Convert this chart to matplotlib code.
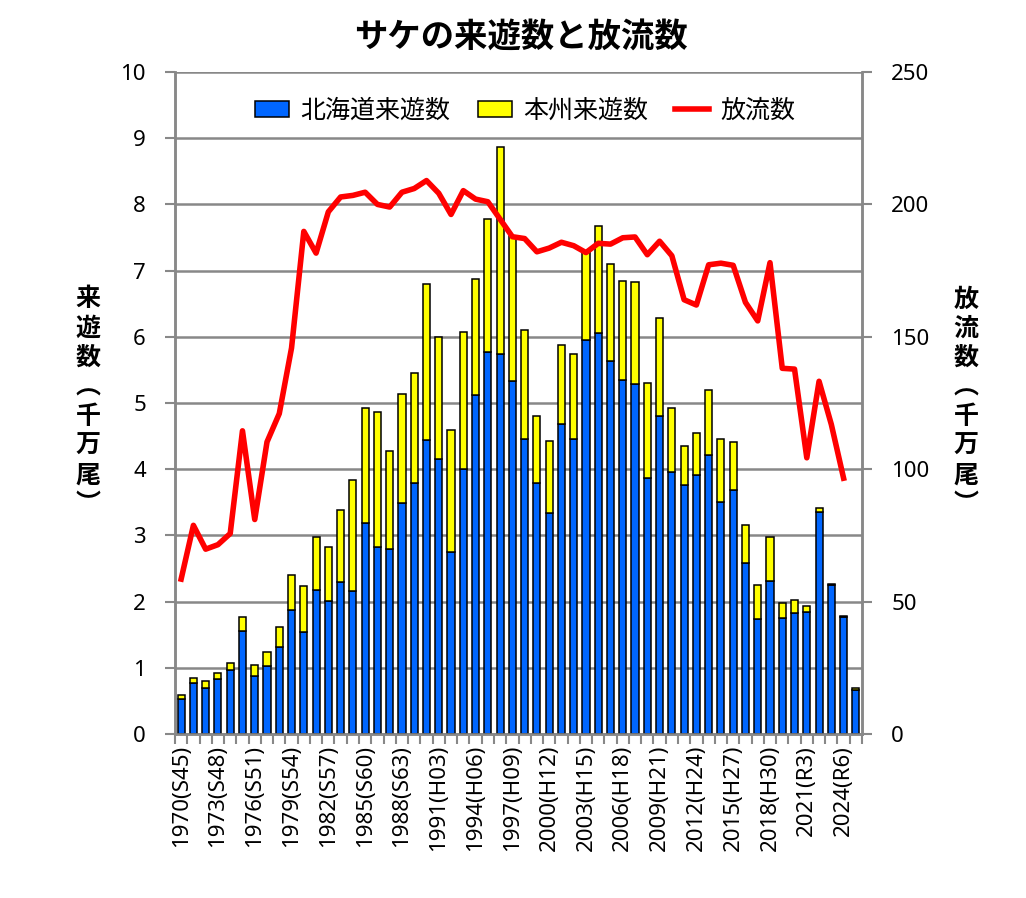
import matplotlib
matplotlib.use("Agg")
import matplotlib.pyplot as plt
import numpy as np
from matplotlib.ticker import FixedLocator

years = list(range(1970, 2026))
hokkaido = [0.53, 0.77, 0.69, 0.83, 0.96, 1.56, 0.87, 1.02, 1.31, 1.88,
            1.54, 2.18, 2.01, 2.29, 2.16, 3.18, 2.82, 2.80, 3.49, 3.79,
            4.44, 4.16, 2.75, 4.00, 5.12, 5.77, 5.74, 5.33, 4.45, 3.79,
            3.34, 4.68, 4.45, 5.95, 6.05, 5.64, 5.35, 5.28, 3.86, 4.80,
            3.96, 3.76, 3.91, 4.21, 3.50, 3.68, 2.58, 1.73, 2.31, 1.75,
            1.83, 1.85, 3.35, 2.25, 1.77, 0.67]
honshu = [0.06, 0.08, 0.11, 0.09, 0.11, 0.20, 0.17, 0.22, 0.30, 0.52,
          0.69, 0.80, 0.82, 1.09, 1.67, 1.75, 2.04, 1.48, 1.64, 1.67,
          2.36, 1.84, 1.84, 2.07, 1.76, 2.01, 3.13, 2.19, 1.65, 1.02,
          1.09, 1.19, 1.29, 1.33, 1.62, 1.46, 1.49, 1.55, 1.44, 1.49,
          0.97, 0.59, 0.63, 0.98, 0.96, 0.73, 0.57, 0.52, 0.66, 0.23,
          0.19, 0.08, 0.07, 0.02, 0.02, 0.02]
# releases, 1970-2024
release = [58.5, 78.8, 69.8, 71.5, 75.7, 114.5, 81.0, 110.3, 121.0, 145.8,
           189.8, 181.6, 197.2, 202.8, 203.4, 204.6, 200.0, 199.0, 204.6, 206.0,
           209.0, 204.2, 196.2, 205.2, 202.0, 201.0, 194.4, 187.8, 187.1, 182.1,
           183.5, 185.7, 184.4, 181.8, 185.3, 185.0, 187.4, 187.7, 181.0, 186.1,
           180.6, 164.0, 162.0, 177.2, 177.8, 177.0, 163.0, 156.0, 178.0, 138.1,
           137.8, 104.3, 133.2, 116.9, 96.6]
tick_labels = ["1970(S45)", "1973(S48)", "1976(S51)", "1979(S54)", "1982(S57)",
               "1985(S60)", "1988(S63)", "1991(H03)", "1994(H06)", "1997(H09)",
               "2000(H12)", "2003(H15)", "2006(H18)", "2009(H21)", "2012(H24)",
               "2015(H27)", "2018(H30)", "2021(R3)", "2024(R6)"]

CJK = ["Noto Sans CJK JP", "DejaVu Sans"]
LAT = ["Noto Sans", "Noto Sans CJK JP"]
GRAY = "#888888"

fig = plt.figure(figsize=(10.26, 8.98), dpi=100)
ax = fig.add_axes([175/1026, 164/898, 687/1026, 662/898])
ax2 = ax.twinx()

x = np.arange(len(years))
ax.bar(x, hokkaido, width=0.58, color="#0066FF", edgecolor="black", linewidth=1.1,
       label="北海道来遊数", zorder=3)
ax.bar(x, honshu, width=0.58, bottom=hokkaido, color="#FFFF00", edgecolor="black",
       linewidth=1.1, label="本州来遊数", zorder=3)
ax2.plot(x[:len(release)], release, color="#FF0000", lw=4, label="放流数")

ax.set_xlim(-0.5, len(years) - 0.5)
ax.set_ylim(0, 10)
ax2.set_ylim(0, 250)
ax.set_yticks(range(0, 11))
ax2.set_yticks(range(0, 251, 50))
ax.grid(axis="y", color=GRAY, lw=1.8)
ax.set_axisbelow(True)

ax.set_xticks(x[::3])
ax.set_xticklabels(tick_labels, rotation=90, family=LAT, fontsize=16)
ax.xaxis.set_minor_locator(FixedLocator(np.arange(-0.5, len(years), 1)))
ax.tick_params(axis="x", which="major", length=0, pad=8)
ax.tick_params(axis="x", which="minor", length=7, width=1.5, color=GRAY)
ax.tick_params(axis="y", length=7, width=1.5, color=GRAY, labelsize=16, pad=14)
ax2.tick_params(axis="y", length=7, width=1.5, color=GRAY, labelsize=16, pad=14)
for lab in ax.get_yticklabels() + ax2.get_yticklabels():
    lab.set_family(LAT)

for a in (ax, ax2):
    a.spines["top"].set_visible(False)
    for s in ("left", "right", "bottom"):
        a.spines[s].set_color(GRAY)
        a.spines[s].set_linewidth(1.8)

h1, l1 = ax.get_legend_handles_labels()
h2, l2 = ax2.get_legend_handles_labels()
leg = ax2.legend(h1 + h2, l1 + l2, loc="upper center", bbox_to_anchor=(0.51, 0.995),
                 ncol=3, frameon=False, prop={"family": CJK, "size": 18},
                 handlelength=1.35, handleheight=0.65, columnspacing=1.1, handletextpad=0.45)

fig.text(0.508, 0.959, "サケの来遊数と放流数", ha="center", va="center",
         fontsize=24, fontweight="bold", family=CJK)
fig.text(88/1026, 1 - 402/898, "\n".join("来遊数︵千万尾︶"), ha="center", va="center",
         fontsize=18, fontweight="bold", family=CJK, linespacing=1.28)
fig.text(966/1026, 1 - 402/898, "\n".join("放流数︵千万尾︶"), ha="center", va="center",
         fontsize=18, fontweight="bold", family=CJK, linespacing=1.28)

fig.savefig("out.png", dpi=100)
